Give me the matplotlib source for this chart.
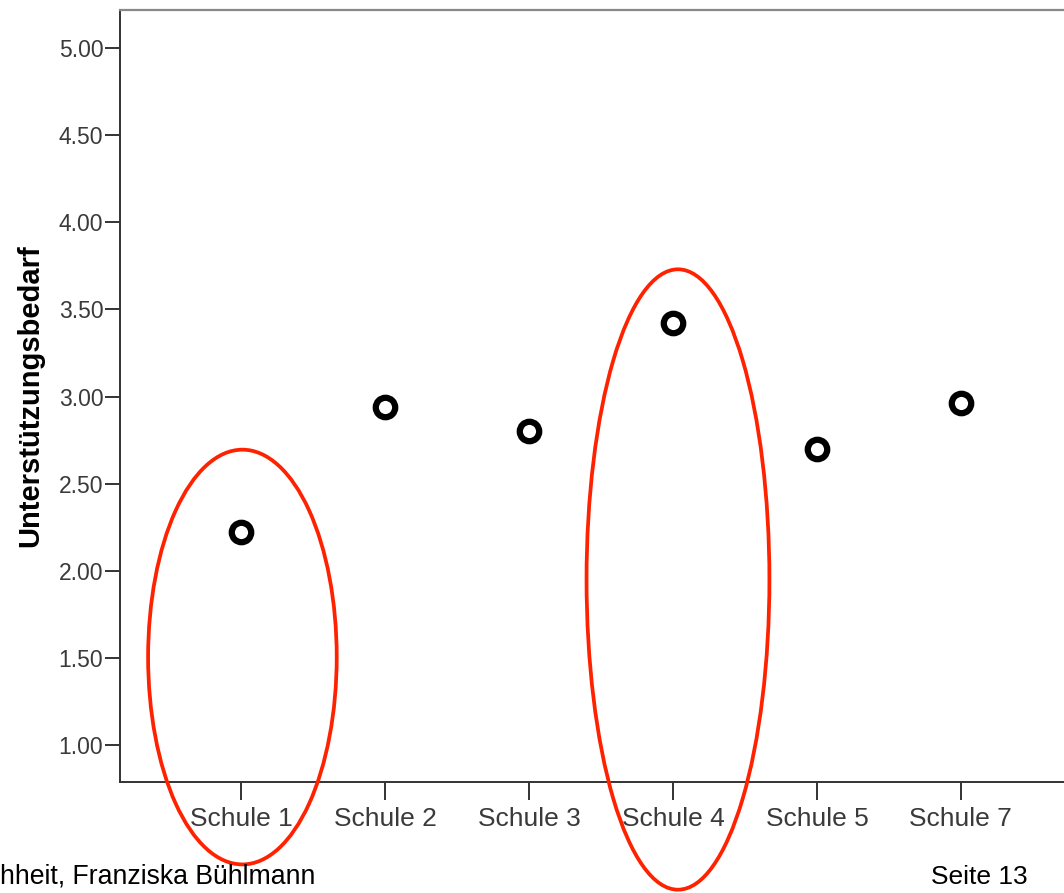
import matplotlib
matplotlib.use("Agg")
import matplotlib.pyplot as plt
from matplotlib.patches import Ellipse

plt.rcParams['font.family'] = ['Liberation Sans', 'DejaVu Sans']

# Data
schulen = ['Schule 1', 'Schule 2', 'Schule 3', 'Schule 4', 'Schule 5', 'Schule 7']
bedarf = [2.22, 2.94, 2.80, 3.42, 2.70, 2.96]
y_ticks = [1.0, 1.5, 2.0, 2.5, 3.0, 3.5, 4.0, 4.5, 5.0]

# highlighted schools: (center x, center y, width in categories, height in values)
markierungen = [(0.01, 1.505, 1.31, 2.38), (3.035, 1.95, 1.27, 3.56)]

fig = plt.figure(figsize=(10.64, 8.93), dpi=100)
ax = fig.add_axes([0.1128, 0.1243, 0.904, 0.8645])

x = list(range(len(schulen)))
ax.plot(x, bedarf, linestyle='none', marker='o', markersize=14,
        markerfacecolor='white', markeredgecolor='black', markeredgewidth=4.5,
        zorder=3)

# red ellipses around schools 1 and 4
for cx, cy, w, h in markierungen:
    e = Ellipse((cx, cy), w, h, fill=False, edgecolor='#ff2200',
                linewidth=2.7, clip_on=False, zorder=4)
    ax.add_patch(e)

ax.set_xlim(-0.84, 5.84)
ax.set_ylim(0.788, 5.218)
ax.set_xticks(x)
ax.set_xticklabels(schulen)
ax.set_yticks(y_ticks)
ax.set_yticklabels(['%.2f' % v for v in y_ticks])

ax.tick_params(axis='y', direction='out', length=11, width=1.4, pad=1,
               labelsize=16.5, colors='#333333', labelcolor='#3a3a3a')
ax.tick_params(axis='x', direction='out', length=13, width=1.4, pad=5,
               labelsize=19, colors='#333333', labelcolor='#3a3a3a')

for side in ['left', 'bottom']:
    ax.spines[side].set_color('#333333')
    ax.spines[side].set_linewidth(1.4)
ax.spines['top'].set_color('#888888')
ax.spines['top'].set_linewidth(1.6)
ax.spines['right'].set_color('#888888')

ax.set_ylabel('Unterstützungsbedarf', fontsize=21, fontweight='bold')
ax.yaxis.set_label_coords(-0.079, 0.5)

# footer
fig.text(0.0, 0.004, 'hheit, Franziska Bühlmann', fontsize=19.2, ha='left', va='bottom')
fig.text(0.9655, 0.004, 'Seite 13', fontsize=19, ha='right', va='bottom')

fig.savefig('out.png', dpi=100)
